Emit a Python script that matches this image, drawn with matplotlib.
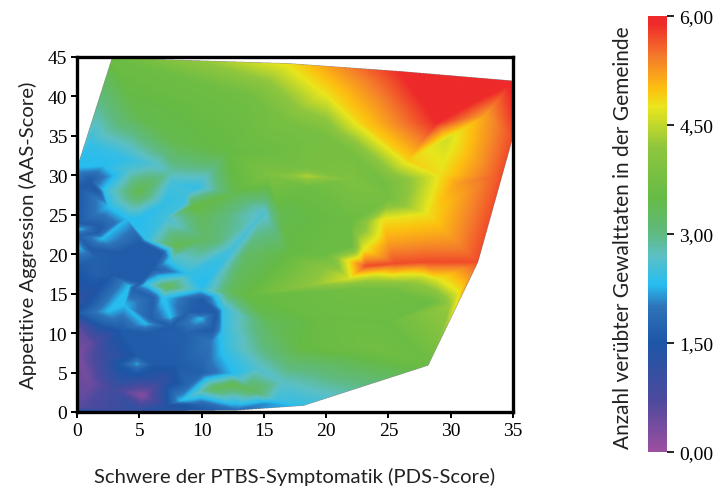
import numpy as np
import matplotlib
matplotlib.use('Agg')
import matplotlib.pyplot as plt
import matplotlib.tri as mtri
from matplotlib.colors import LinearSegmentedColormap

# PDS score, AAS score, violent acts
pds_hull = [0, 0, 2.8, 17, 26, 35, 35, 32.2, 30.6, 28.2, 18.2, 12.8, 5, 0.2]
aas_hull = [0, 31, 44.9, 44.2, 43.2, 42, 34.8, 19, 15, 5.9, 0.8, 0.2, 0.1, 0.6]
acts_hull = [1.5, 2.3, 3.6, 4.8, 5.9, 6.0, 5.7, 5.7, 4.7, 3.6, 2.4, 1.9, 1.2, 0.6]

# red wedge and the yellow ridges around it
pds_upper = [1, 4.8, 7.5, 9.7, 2.1, 14, 15.5, 18.5, 15, 24.6, 20, 26.6, 28.9, 29.7, 12, 8,
             20, 23, 32, 32.8, 30.5, 33.7, 16.5, 22, 18.5, 18.5, 22]
aas_upper = [34, 37.6, 30.4, 28.5, 31.2, 40, 30, 29.9, 33, 29.1, 35, 32, 36.7, 34.6, 33, 34,
             40.5, 36.5, 39.4, 37.6, 29, 30, 37, 33, 31, 28.5, 29.5]
acts_upper = [2.4, 3.4, 2.8, 2.4, 2.3, 3.7, 3.9, 4.4, 3.6, 3.7, 3.8, 4.9, 5.9, 4.6, 3.5, 3.4,
              4.8, 4.9, 5.9, 5.2, 5.2, 5.6, 3.8, 3.8, 3.8, 3.6, 3.9]

pds_right = [28.2, 24.6, 21.8, 23.2, 28, 26.7, 25.4, 28.5, 25, 25.2, 22, 20, 18, 16.3, 17, 20, 24,
             23, 22, 29.2, 25.1, 27.7, 30, 25.5, 25, 28, 24, 29, 22]
aas_right = [25, 24.3, 16.9, 18.5, 19, 17.6, 16.8, 13.9, 11.4, 15.5, 21, 12, 8, 25.3, 20, 20, 8,
             20.7, 24, 30, 27, 17, 13.5, 18.8, 21.5, 22, 17.3, 16.8, 15.5]
acts_right = [4.8, 4.8, 4.6, 5.7, 5.7, 4.8, 4.4, 3.6, 3.6, 3.7, 3.6, 3.6, 3.5, 3.4, 3.5, 3.6, 3.7,
              4.7, 3.6, 4.8, 3.8, 4.5, 4.3, 5.7, 5.2, 5.2, 4.6, 4.7, 3.7]

pds_cyan = [4.1, 7.6, 2.2, 6.9, 5, 8.7, 10, 9.3, 8.9, 5.5, 7.7, 8, 10.1, 15, 12.5, 10.4, 12.3, 13.6,
            2, 4, 2.5, 5, 3, 7, 4, 6, 12.5, 11.5, 13.6, 9, 15.5]
aas_cyan = [30.6, 28.9, 28, 26.4, 28, 26.4, 24.7, 26, 27.8, 21.9, 19.4, 21, 16, 25.3, 27.8, 21.9, 15.2, 14.7,
            22, 24.5, 26, 24.5, 30, 24.5, 32, 31.5, 20.6, 21.6, 20, 17.5, 11]
acts_cyan = [2.6, 2.5, 2.4, 2.4, 3.4, 2.5, 3.3, 3.5, 2.5, 2.4, 2.6, 3.4, 2.3, 2.6, 3.4, 3.2, 3.3, 3.5,
             2.3, 2.3, 2.3, 2.3, 2.3, 2.5, 2.4, 2.6, 2.5, 3.0, 3.2, 2.4, 3.3]

pds_blue = [1, 1.7, 1.7, 0.2, 1.7, 1, 0.1, 0.1, 0.1, 5.2, 6.8, 6.1, 5.1, 3.4, 2.8, 1.5,
            4.2, 2.5, 5.5, 9.9, 7.5, 3.8, 0.1, 1.8, 0.1]
aas_blue = [29.5, 28, 23.6, 28.5, 22.8, 20.7, 24, 22.3, 20.9, 21.5, 20.2, 18.1, 16.4, 20.2, 17.3, 19.5,
            16, 12.8, 11.2, 11.8, 12, 13.5, 18.5, 17.5, 23.2]
acts_blue = [1.6, 1.6, 1.6, 1.6, 1.6, 1.6, 1.6, 1.7, 2.3, 1.6, 1.6, 1.6, 1.6, 1.6, 1.6, 1.7,
             2.3, 2.3, 2.3, 2.3, 2.3, 2.3, 1.6, 1.7, 2.3]

pds_mid = [7.2, 5.5, 6.9, 9.9, 4.5, 6, 6.1, 9.3, 8.8, 10.1, 9.5, 10.9, 11.2, 11.7, 8.8,
           10.7, 11.8, 12.5, 12.5, 10, 8.3, 15, 16, 14.4, 16.5, 14.9, 3.5, 5.5, 7.5, 11.7, 15,
           10, 9, 11, 14]
aas_mid = [15.9, 16.2, 14.5, 15.5, 15.6, 11.8, 14.5, 14.3, 12.6, 14.3, 12.7, 10.5, 12.6, 13, 10,
           8.8, 8, 4.9, 3.5, 2.6, 1.4, 2, 1.6, 5.5, 3.8, 8, 10.5, 10, 10.8, 10, 1,
           5, 3.5, 3, 2.8]
acts_mid = [3.3, 2.4, 2.4, 2.4, 1.7, 1.7, 1.7, 1.7, 1.7, 1.6, 1.6, 1.6, 1.6, 2.4, 1.7,
            2.0, 2.4, 2.3, 3.4, 2.8, 2.3, 2.9, 2.5, 2.6, 2.7, 3.0, 1.6, 1.6, 1.6, 2.4, 2.1,
            1.7, 1.8, 3.3, 3.3]

pds_low = [0.1, 0.1, 1, 1, 2.9, 5.2, 6.7, 4.8, 3.5, 6.1, 4.8, 4.8, 0.1, 2, 8, 7, 10, 1.8, 0.1]
aas_low = [10.9, 7.1, 8.8, 3.8, 2.9, 2.1, 3.8, 6.1, 6, 6, 7.2, 5, 13.9, 11, 6, 0.8, 1, 7, 12.5]
acts_low = [0.6, 0.3, 0.5, 0.4, 0.9, 0.2, 1.1, 2.2, 1.6, 1.6, 1.6, 1.6, 1.2, 1.6, 1.6, 1.3, 1.8, 0.9, 1.6]

cbar_ticks = [0, 1.5, 3, 4.5, 6]
x_ticks = [0, 5, 10, 15, 20, 25, 30, 35]
y_ticks = [0, 5, 10, 15, 20, 25, 30, 35, 40, 45]

pds = np.array(pds_hull + pds_upper + pds_right + pds_cyan + pds_blue + pds_mid + pds_low, dtype=float)
aas = np.array(aas_hull + aas_upper + aas_right + aas_cyan + aas_blue + aas_mid + aas_low, dtype=float)
acts = np.array(acts_hull + acts_upper + acts_right + acts_cyan + acts_blue + acts_mid + acts_low, dtype=float)

cmap = LinearSegmentedColormap.from_list('gewalt', [
    (0 / 6, '#9c4f9f'), (0.7 / 6, '#4d4a9e'), (1.5 / 6, '#1d56a6'), (2.0 / 6, '#2e74ba'),
    (2.3 / 6, '#27bdf0'), (2.7 / 6, '#5cc0c4'), (3.0 / 6, '#5fba80'), (3.5 / 6, '#66bb45'),
    (4.2 / 6, '#8fc63e'), (4.75 / 6, '#e9e61c'), (5.0 / 6, '#fdc010'), (5.4 / 6, '#f5822a'),
    (5.9 / 6, '#ee2a2a'), (6 / 6, '#ee2a2a')])

tri = mtri.Triangulation(pds, aas)
interp = mtri.LinearTriInterpolator(tri, acts)
gx, gy = np.meshgrid(np.linspace(0, 35, 1300), np.linspace(0, 45, 1300))
gz = interp(gx, gy)

W, H = 725, 489
fig = plt.figure(figsize=(W / 100, H / 100), dpi=100)
ax = fig.add_axes([77 / W, (H - 413) / H, 436 / W, 355 / H])
im = ax.imshow(gz, origin='lower', extent=(0, 35, 0, 45), aspect='auto', cmap=cmap, vmin=0, vmax=6)

serif = 'Liberation Serif'
ax.set_xticks(x_ticks)
ax.set_yticks(y_ticks)
ax.tick_params(length=4, width=1.4, labelsize=14, pad=3)
for lab in ax.get_xticklabels() + ax.get_yticklabels():
    lab.set_family(serif)
for s in ax.spines.values():
    s.set_linewidth(2.4)
ax.set_xlabel('Schwere der PTBS-Symptomatik (PDS-Score)', family='Lato', size=14.6, color='#222222', labelpad=20)
ax.set_ylabel('Appetitive Aggression (AAS-Score)', family='Lato', size=14.6, color='#222222', labelpad=8)

cax = fig.add_axes([648 / W, (H - 453) / H, 19 / W, 436.5 / H])
cb = fig.colorbar(im, cax=cax)
cb.outline.set_visible(False)
cb.set_ticks(cbar_ticks)
cb.set_ticklabels([('%.2f' % t).replace('.', ',') for t in cbar_ticks])
cb.ax.tick_params(length=5, width=1.2, labelsize=14, pad=4)
for lab in cb.ax.get_yticklabels():
    lab.set_family(serif)
fig.text(623 / W, 1 - 238 / H, 'Anzahl verübter Gewalttaten in der Gemeinde', family='Lato', size=15,
         color='#222222', rotation=90, ha='center', va='center')

fig.savefig('out.png', dpi=100, facecolor='w')
